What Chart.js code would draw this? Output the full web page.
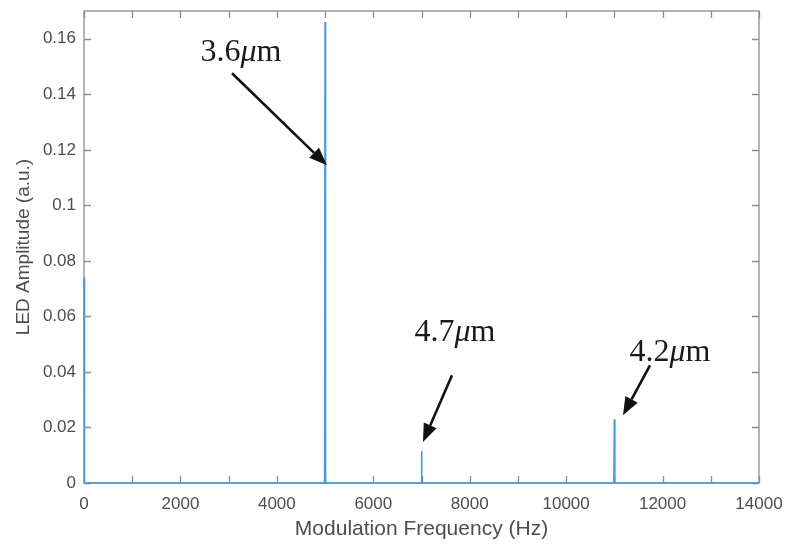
<!DOCTYPE html>
<html>
<head>
<meta charset="utf-8">
<script src="https://cdn.jsdelivr.net/npm/chart.js@4.4.1/dist/chart.umd.min.js"></script>
<style>
  html, body { margin: 0; padding: 0; background: #fff; }
  #wrap { width: 786px; height: 544px; }
</style>
</head>
<body>
<div id="wrap"><canvas id="spectrum"></canvas></div>
<script>
// Spectrum: baseline is zero everywhere except the spikes.
const freqHz = [0, 10, 4990, 5000, 5010, 6990, 7000, 7010, 10990, 11000, 11010, 14000];
const amplitude = [0.074, 0, 0, 0.166, 0, 0, 0.0115, 0, 0, 0.023, 0, 0];

const xTicks = [0, 2000, 4000, 6000, 8000, 10000, 12000, 14000];
const yTicks = [0, 0.02, 0.04, 0.06, 0.08, 0.1, 0.12, 0.14, 0.16];

// Wavelength labels and arrows, in data coordinates (text centre, arrow tail, arrow tip).
const peakLabels = [
    { num: '3.6', text: [3256, 0.1549], from: [3070, 0.1476], to: [5040, 0.1144] },
    { num: '4.7', text: [7695, 0.0540], from: [7633, 0.0388], to: [7031, 0.0148] },
    { num: '4.2', text: [12154, 0.0471], from: [11739, 0.0424], to: [11179, 0.0244] }
];

const AXIS_GREY = '#8c8c8c';
const TEXT_GREY = '#4d4d4d';

// MATLAB-style box with ticks pointing inward on all four sides
const boxPlugin = {
    id: 'box',
    beforeDatasetsDraw(chart) {
        const { ctx, chartArea: a, scales } = chart;
        ctx.save();
        ctx.strokeStyle = AXIS_GREY;
        ctx.lineWidth = 1.3;
        ctx.strokeRect(a.left, a.top, a.right - a.left, a.bottom - a.top);
        ctx.beginPath();
        scales.x.ticks.forEach(t => {
            const px = Math.round(scales.x.getPixelForValue(t.value)) + 0.5;
            ctx.moveTo(px, a.bottom); ctx.lineTo(px, a.bottom - 7);
            ctx.moveTo(px, a.top); ctx.lineTo(px, a.top + 7);
        });
        scales.y.ticks.forEach(t => {
            const py = Math.round(scales.y.getPixelForValue(t.value)) + 0.5;
            ctx.moveTo(a.left, py); ctx.lineTo(a.left + 7, py);
            ctx.moveTo(a.right, py); ctx.lineTo(a.right - 7, py);
        });
        ctx.stroke();
        ctx.restore();
    }
};

const labelPlugin = {
    id: 'peakLabels',
    afterDraw(chart) {
        const { ctx, scales } = chart;
        const X = v => scales.x.getPixelForValue(v);
        const Y = v => scales.y.getPixelForValue(v);
        ctx.save();
        peakLabels.forEach(p => {
            // text: number upright, mu italic, m upright
            const parts = [
                { s: p.num, f: '32px "Liberation Serif"' },
                { s: 'μ', f: 'italic 32px "Liberation Serif"' },
                { s: 'm', f: '32px "Liberation Serif"' }
            ];
            let total = 0;
            parts.forEach(q => { ctx.font = q.f; q.w = ctx.measureText(q.s).width; total += q.w; });
            let cx = X(p.text[0]) - total / 2;
            const cy = Y(p.text[1]);
            ctx.fillStyle = '#1a1a1a';
            ctx.textBaseline = 'middle';
            ctx.textAlign = 'left';
            parts.forEach(q => { ctx.font = q.f; ctx.fillText(q.s, cx, cy); cx += q.w; });

            const x1 = X(p.from[0]), y1 = Y(p.from[1]);
            const x2 = X(p.to[0]), y2 = Y(p.to[1]);
            const ang = Math.atan2(y2 - y1, x2 - x1);
            const head = 18, half = 7;
            const bx = x2 - head * Math.cos(ang), by = y2 - head * Math.sin(ang);
            ctx.strokeStyle = '#111';
            ctx.lineWidth = 2.6;
            ctx.beginPath();
            ctx.moveTo(x1, y1);
            ctx.lineTo(bx, by);
            ctx.stroke();
            ctx.fillStyle = '#111';
            ctx.beginPath();
            ctx.moveTo(x2, y2);
            ctx.lineTo(bx + half * Math.sin(ang), by - half * Math.cos(ang));
            ctx.lineTo(bx - half * Math.sin(ang), by + half * Math.cos(ang));
            ctx.closePath();
            ctx.fill();
        });
        ctx.restore();
    }
};

new Chart(document.getElementById('spectrum'), {
    type: 'line',
    data: {
        datasets: [{
            data: freqHz.map((f, i) => ({ x: f, y: amplitude[i] })),
            borderColor: '#4a9ad8',
            borderWidth: 1.6,
            pointRadius: 0,
            tension: 0,
            clip: 4
        }]
    },
    options: {
        responsive: true,
        maintainAspectRatio: false,
        animation: false,
        layout: { padding: { left: 0, top: 11, right: 27, bottom: 0 } },
        plugins: { legend: { display: false }, tooltip: { enabled: false } },
        scales: {
            x: {
                type: 'linear',
                min: 0,
                max: 14000,
                afterBuildTicks(scale) {
                    const t = [];
                    for (let v = 0; v <= 14000; v += 1000) t.push({ value: v });
                    scale.ticks = t;
                },
                afterFit(scale) {
                    scale.height = 61;
                    scale.paddingLeft = 0;
                    scale.paddingRight = 0;
                },
                grid: { display: false, drawTicks: false },
                border: { display: false },
                ticks: {
                    autoSkip: false,
                    maxRotation: 0,
                    padding: 11,
                    color: TEXT_GREY,
                    font: { family: '"Liberation Sans", Arial', size: 17 },
                    callback: v => xTicks.includes(v) ? String(v) : ''
                },
                title: {
                    display: true,
                    text: 'Modulation Frequency (Hz)',
                    color: TEXT_GREY,
                    font: { family: '"Liberation Sans", Arial', size: 21 },
                    padding: { top: 0, bottom: 2 }
                }
            },
            y: {
                min: 0,
                max: 0.17,
                afterBuildTicks(scale) { scale.ticks = yTicks.map(v => ({ value: v })); },
                afterFit(scale) {
                    scale.width = 84;
                    scale.paddingTop = 0;
                    scale.paddingBottom = 0;
                },
                grid: { display: false, drawTicks: false },
                border: { display: false },
                ticks: {
                    padding: 8,
                    color: TEXT_GREY,
                    font: { family: '"Liberation Sans", Arial', size: 17 },
                    callback: v => String(Math.round(v * 100) / 100)
                },
                title: {
                    display: true,
                    text: 'LED Amplitude (a.u.)',
                    color: TEXT_GREY,
                    font: { family: '"Liberation Sans", Arial', size: 19 },
                    padding: { top: 12, bottom: 0 }
                }
            }
        }
    },
    plugins: [boxPlugin, labelPlugin]
});
</script>
</body>
</html>
